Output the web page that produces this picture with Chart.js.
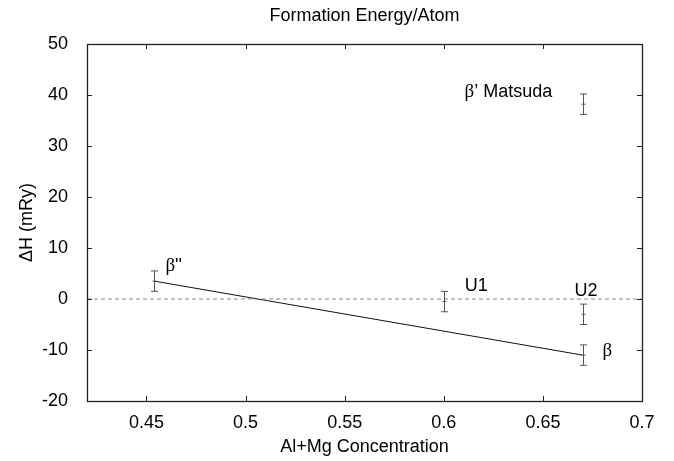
<!DOCTYPE html>
<html>
<head>
<meta charset="utf-8">
<title>Formation Energy/Atom</title>
<script src="https://cdn.jsdelivr.net/npm/chart.js@4/dist/chart.umd.min.js"></script>
<style>
  html, body { margin: 0; padding: 0; background: #fff; }
  #grafico { display: block; }
</style>
</head>
<body>
<canvas id="grafico" width="674" height="461"></canvas>
<script>
// Datos: energía de formación por fase
const fases = ["β''", "U1", "U2", "β", "β’ Matsuda"];
const concentracion = [0.454, 0.6, 0.67, 0.67, 0.67];
const energia = [3.5, -0.5, -3, -11, 38.2];
const errorEnergia = [2, 2, 2, 2, 2];

// Ejes
const xTicks = [0.45, 0.5, 0.55, 0.6, 0.65, 0.7];
const yTicks = [-20, -10, 0, 10, 20, 30, 40, 50];
const xMin = 0.42, xMax = 0.7;
const yMin = -20, yMax = 50;

const titulo = 'Formation Energy/Atom';

// Posición de cada etiqueta respecto a su punto (px, línea base)
const desplazamientoEtiqueta = [[11, -10], [21, -10.6], [-8, -18.4], [20, 1], [-118, -7.4]];

const FUENTE = "'Liberation Sans', Arial, Helvetica, sans-serif";
const FUENTE_GRIEGA = "'Liberation Serif', 'Times New Roman', serif";

Chart.defaults.font.family = FUENTE;
Chart.defaults.font.size = 18;
Chart.defaults.color = '#000';

// Marco con marcas hacia dentro en los cuatro lados, y título centrado sobre el área
const marcoPlugin = {
    id: 'marco',
    afterDatasetsDraw(chart) {
        const { ctx, chartArea: a, scales } = chart;
        const largo = 5;
        ctx.save();
        ctx.strokeStyle = '#222';
        ctx.lineWidth = 1;
        ctx.beginPath();
        scales.x.ticks.forEach(t => {
            const px = Math.round(scales.x.getPixelForValue(t.value)) + 0.5;
            ctx.moveTo(px, a.bottom); ctx.lineTo(px, a.bottom - largo);
            ctx.moveTo(px, a.top); ctx.lineTo(px, a.top + largo);
        });
        scales.y.ticks.forEach(t => {
            const py = Math.round(scales.y.getPixelForValue(t.value)) + 0.5;
            ctx.moveTo(a.left, py); ctx.lineTo(a.left + largo, py);
            ctx.moveTo(a.right, py); ctx.lineTo(a.right - largo, py);
        });
        ctx.stroke();
        ctx.lineWidth = 1.3;
        ctx.strokeRect(Math.round(a.left) + 0.5, Math.round(a.top) + 0.5,
            Math.round(a.right - a.left), Math.round(a.bottom - a.top));

        ctx.fillStyle = '#000';
        ctx.font = '18px ' + FUENTE;
        ctx.textAlign = 'center';
        ctx.textBaseline = 'middle';
        ctx.fillText(titulo, (a.left + a.right) / 2, 16);
        ctx.restore();
    }
};

// Barras de error y etiquetas de cada fase
const erroresPlugin = {
    id: 'errores',
    afterDatasetsDraw(chart) {
        const { ctx, scales: { x, y } } = chart;
        ctx.save();
        ctx.strokeStyle = '#555';
        ctx.lineWidth = 1;
        concentracion.forEach((c, i) => {
            const px = Math.round(x.getPixelForValue(c)) + 0.5;
            const pc = y.getPixelForValue(energia[i]);
            const p1 = y.getPixelForValue(energia[i] + errorEnergia[i]);
            const p2 = y.getPixelForValue(energia[i] - errorEnergia[i]);
            ctx.beginPath();
            ctx.moveTo(px, p1); ctx.lineTo(px, p2);
            ctx.moveTo(px - 3.5, p1); ctx.lineTo(px + 3.5, p1);
            ctx.moveTo(px - 3.5, p2); ctx.lineTo(px + 3.5, p2);
            ctx.moveTo(px - 2, pc); ctx.lineTo(px + 2, pc);
            ctx.stroke();
        });

        ctx.fillStyle = '#000';
        ctx.textBaseline = 'alphabetic';
        ctx.textAlign = 'left';
        fases.forEach((texto, i) => {
            let tx = x.getPixelForValue(concentracion[i]) + desplazamientoEtiqueta[i][0];
            const ty = y.getPixelForValue(energia[i]) + desplazamientoEtiqueta[i][1];
            // la letra griega va en fuente con serifa, el resto en sans
            for (const ch of texto) {
                ctx.font = (ch === 'β' ? '19px ' + FUENTE_GRIEGA : '18px ' + FUENTE);
                ctx.fillText(ch, tx, ty);
                tx += ctx.measureText(ch).width;
            }
        });
        ctx.restore();
    }
};

const ctx = document.getElementById('grafico').getContext('2d');

window.graficaEnergia = new Chart(ctx, {
    type: 'scatter',
    data: {
        datasets: [
            {
                // referencia en cero
                data: [{ x: xMin, y: 0 }, { x: xMax, y: 0 }],
                showLine: true,
                borderColor: '#888',
                borderWidth: 1,
                borderDash: [4, 3],
                pointRadius: 0
            },
            {
                // recta entre β'' y β
                data: [
                    { x: concentracion[0], y: energia[0] },
                    { x: concentracion[3], y: energia[3] }
                ],
                showLine: true,
                borderColor: '#111',
                borderWidth: 1,
                pointRadius: 0
            },
            {
                data: concentracion.map((c, i) => ({ x: c, y: energia[i] })),
                showLine: false,
                pointRadius: 0
            }
        ]
    },
    options: {
        responsive: false,
        animation: false,
        layout: { padding: { left: 0, right: 32, top: 44, bottom: 0 } },
        scales: {
            x: {
                type: 'linear',
                min: xMin,
                max: xMax,
                afterBuildTicks: s => { s.ticks = xTicks.map(v => ({ value: v })); },
                afterFit: s => { s.height = 60; },
                grid: { display: false },
                border: { display: false },
                ticks: { padding: 3, maxRotation: 0, callback: v => String(v) },
                title: {
                    display: true,
                    text: 'Al+Mg Concentration',
                    padding: { top: 0, bottom: 3 }
                }
            },
            y: {
                type: 'linear',
                min: yMin,
                max: yMax,
                afterBuildTicks: s => { s.ticks = yTicks.map(v => ({ value: v })); },
                afterFit: s => { s.width = 87; },
                grid: { display: false },
                border: { display: false },
                ticks: { padding: 11, callback: v => String(v) },
                title: {
                    display: true,
                    text: 'ΔH (mRy)',
                    padding: { top: 16, bottom: 0 }
                }
            }
        },
        plugins: {
            legend: { display: false },
            tooltip: { enabled: false },
            title: { display: false }
        }
    },
    plugins: [erroresPlugin, marcoPlugin]
});
</script>
</body>
</html>
